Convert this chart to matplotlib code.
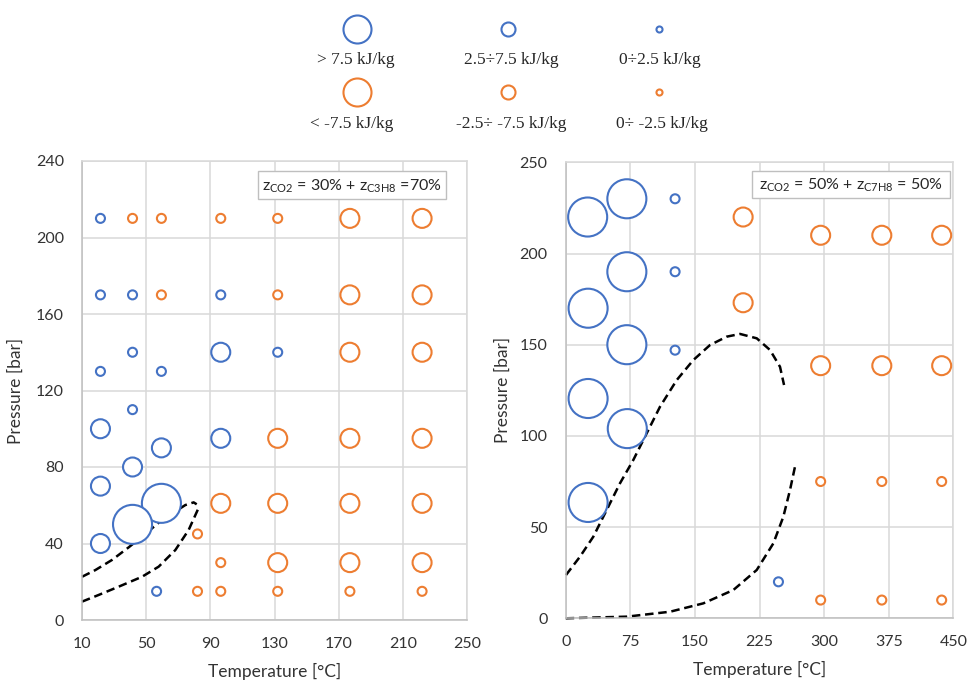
import matplotlib
matplotlib.use("Agg")
import matplotlib.pyplot as plt
from matplotlib.patches import Rectangle

plt.rcParams['font.family'] = ['Lato', 'DejaVu Sans']
plt.rcParams['mathtext.fontset'] = 'custom'
plt.rcParams['mathtext.rm'] = 'Lato'
plt.rcParams['mathtext.it'] = 'Lato:italic'

BLUE = '#4472C4'
ORANGE = '#ED7D31'

# ---------------- data: left panel (zCO2 30% + zC3H8 70%) ----------------
left_T = [21.5, 41.5, 59.5, 96.5, 132, 177, 222,
          21.5, 41.5, 59.5, 96.5, 132, 177, 222,
          41.5, 96.5, 132, 177, 222,
          21.5, 59.5,
          41.5,
          21.5,
          96.5, 132, 177, 222,
          59.5,
          41.5,
          21.5,
          59.5, 96.5, 132, 177, 222,
          41.5,
          82,
          21.5,
          96.5, 132, 177, 222,
          56.5, 82, 96.5, 132, 177, 222]
left_P = [210, 210, 210, 210, 210, 210, 210,
          170, 170, 170, 170, 170, 170, 170,
          140, 140, 140, 140, 140,
          130, 130,
          110,
          100,
          95, 95, 95, 95,
          90,
          80,
          70,
          61, 61, 61, 61, 61,
          50,
          45,
          40,
          30, 30, 30, 30,
          15, 15, 15, 15, 15, 15]
# class: +3 > 7.5, +2 2.5..7.5, +1 0..2.5, -1 0..-2.5, -2 -2.5..-7.5, -3 < -7.5 kJ/kg
left_cls = [1, -1, -1, -1, -1, -2, -2,
            1, 1, -1, 1, -1, -2, -2,
            1, 2, 1, -2, -2,
            1, 1,
            1,
            2,
            2, -2, -2, -2,
            2,
            2,
            2,
            3, -2, -2, -2, -2,
            3,
            -1,
            2,
            -1, -2, -2, -2,
            1, -1, -1, -1, -1, -1]

left_curve1_T = [10, 18.3, 28.7, 39.1, 47.4, 59.9, 74.4, 79.6, 81.5]
left_curve1_P = [22.6, 26.1, 31.4, 38.0, 43.6, 52.3, 60.1, 61.5, 60.5]
left_curve2_T = [10, 20.4, 32.8, 47.4, 57.8, 68.2, 76.5, 82.3]
left_curve2_P = [9.6, 13.1, 17.4, 22.6, 27.9, 36.6, 47.1, 57.9]

# ---------------- data: right panel (zCO2 50% + zC7H8 50%) ----------------
right_T = [25.5, 71, 127, 206, 296, 367, 436.5,
           71, 127,
           26, 206,
           71, 127,
           296, 367, 436.5,
           26,
           71.5,
           26,
           296, 367, 436.5,
           247,
           296, 367, 436.5]
right_P = [220, 230, 230, 220, 210, 210, 210,
           190, 190,
           170, 173,
           150, 147,
           138.5, 138.5, 138.5,
           120.5,
           104,
           63.5,
           75, 75, 75,
           20,
           10, 10, 10]
right_cls = [3, 3, 1, -2, -2, -2, -2,
             3, 1,
             3, -2,
             3, 1,
             -2, -2, -2,
             3,
             3,
             3,
             -1, -1, -1,
             1,
             -1, -1, -1]

right_curve1_T = [0.3, 16.6, 32, 47.6, 63, 78.5, 94, 109.5, 128.9, 148.2, 167.5,
                  186.9, 202.4, 221.8, 237.2, 248.8, 253.5]
right_curve1_P = [23.7, 33.8, 44.7, 59.4, 74, 86.8, 101.4, 116, 130.6, 141.6, 149.8,
                  154.4, 155.9, 153.5, 147.1, 137.9, 127.9]
right_curve2_T = [0, 70.8, 121.1, 159.8, 194.6, 221.8, 241.1, 252.7, 260.4, 266.2]
right_curve2_P = [0, 0.9, 3.6, 8.2, 15.5, 26.5, 41.1, 55.7, 70.3, 83.1]

left_xticks = [10, 50, 90, 130, 170, 210, 250]
left_yticks = [0, 40, 80, 120, 160, 200, 240]
right_xticks = [0, 75, 150, 225, 300, 375, 450]
right_yticks = [0, 50, 100, 150, 200, 250]

legend_cls = [3, 2, 1, -3, -2, -1]
legend_labels = ['> 7.5 kJ/kg', '2.5÷7.5 kJ/kg', '0÷2.5 kJ/kg',
                 '< -7.5 kJ/kg', '-2.5÷ -7.5 kJ/kg', '0÷ -2.5 kJ/kg']

left_title = r'z$_{\mathrm{CO2}}$ = 30% + z$_{\mathrm{C3H8}}$ =70%'
right_title = r'z$_{\mathrm{CO2}}$ = 50% + z$_{\mathrm{C7H8}}$ = 50%'

# ---------------- styling ----------------
PLOT_SIZE = {1: 42, 2: 187, 3: 790}
LEG_SIZE = {1: 19, 2: 102, 3: 407}
W, H = 967, 681


def color_of(c):
    return BLUE if c > 0 else ORANGE


fig = plt.figure(figsize=(W / 100, H / 100), dpi=100)


def px_rect(x0, y0, x1, y1):
    return [x0 / W, 1 - y1 / H, (x1 - x0) / W, (y1 - y0) / H]


def make_panel(rect, T, P, cls, curves, xticks, yticks, title, box):
    ax = fig.add_axes(rect)
    ax.set_xlim(xticks[0], xticks[-1])
    ax.set_ylim(yticks[0], yticks[-1])
    ax.set_xticks(xticks)
    ax.set_yticks(yticks)
    ax.grid(True, color='#D9D9D9', linewidth=1.1, zorder=0)
    ax.set_axisbelow(True)
    for s in ['top', 'right']:
        ax.spines[s].set_color('#D9D9D9')
        ax.spines[s].set_linewidth(1.1)
    for s in ['left', 'bottom']:
        ax.spines[s].set_color('#BFBFBF')
        ax.spines[s].set_linewidth(1.1)
    ax.tick_params(length=0, labelsize=11.5, colors='#333333', pad=12)
    ax.tick_params(axis='y', pad=13)
    for cT, cP in curves:
        ax.plot(cT, cP, color='black', linewidth=1.8, linestyle=(0, (3.4, 1.9)),
                zorder=2, clip_on=False)
    ax.scatter(T, P, s=[PLOT_SIZE[abs(c)] for c in cls], facecolors='white',
               edgecolors=[color_of(c) for c in cls], linewidths=1.5, zorder=3,
               clip_on=False)
    ax.set_xlabel('Temperature [°C]', fontsize=12.5, color='#333333', labelpad=9)
    ax.set_ylabel('Pressure [bar]', fontsize=12.5, color='#333333')
    # annotation box
    bx = fig.add_axes(px_rect(*box))
    bx.set_xlim(0, 1)
    bx.set_ylim(0, 1)
    bx.axis('off')
    bx.add_patch(Rectangle((0, 0), 1, 1, facecolor='white', edgecolor='#BFBFBF',
                           linewidth=1.0, transform=bx.transAxes, clip_on=False))
    bx.text(0.5, 0.47, title, ha='center', va='center', fontsize=11.5,
            color='#262626')
    return ax


axL = make_panel(px_rect(82, 161, 467, 620), left_T, left_P, left_cls,
                 [(left_curve1_T, left_curve1_P), (left_curve2_T, left_curve2_P)],
                 left_xticks, left_yticks, left_title, (258, 171, 446, 199))
axL.yaxis.set_label_coords(-0.15, 0.5)

axR = make_panel(px_rect(565.7, 162.3, 953.3, 618.3), right_T, right_P, right_cls,
                 [(right_curve1_T, right_curve1_P), (right_curve2_T, right_curve2_P)],
                 right_xticks, right_yticks, right_title, (752, 171, 950, 198))
axR.yaxis.set_label_coords(-0.142, 0.5)

# ---------------- top legend ----------------
lg = fig.add_axes([0, 0, 1, 1], zorder=10)
lg.set_xlim(0, W)
lg.set_ylim(H, 0)
lg.axis('off')
col_x = [356.5, 507.5, 658.5]
mark_y = [28.5, 91.5]
text_y = [60, 124]
text_x = [[356, 511.5, 660], [351.5, 511.5, 661.5]]
for i, (c, lab) in enumerate(zip(legend_cls, legend_labels)):
    r, k = divmod(i, 3)
    lg.scatter([col_x[k]], [mark_y[r]], s=LEG_SIZE[abs(c)], facecolors='white',
               edgecolors=color_of(c), linewidths=1.5)
    lg.text(text_x[r][k], text_y[r], lab, ha='center', va='center',
            fontsize=12.5, family=['Liberation Serif', 'DejaVu Serif'],
            color='#262626')

fig.savefig('out.png', dpi=100)
